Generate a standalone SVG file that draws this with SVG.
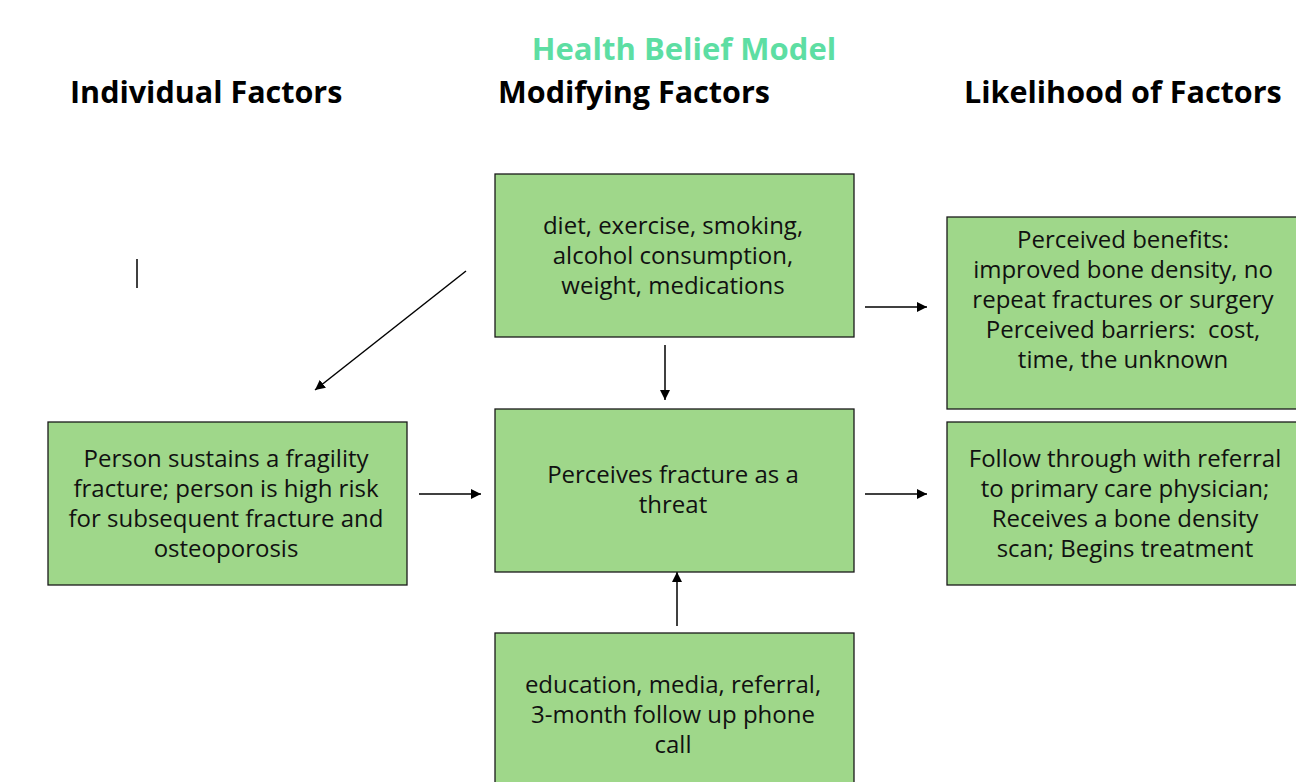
<svg xmlns="http://www.w3.org/2000/svg" width="1296" height="782" viewBox="0 0 1296 782">
<style>
.box{fill:#9fd78a;stroke:#1a1a1a;stroke-width:1.3}
.t{font-family:"Open Sans","Liberation Sans",sans-serif;font-size:24px;fill:#111;text-anchor:middle}
.h{font-family:"Open Sans","Liberation Sans",sans-serif;font-size:30.5px;font-weight:bold;fill:#000}
.c{stroke:#000;stroke-width:1.5;fill:none;marker-end:url(#ah)}
</style>
<defs>
<marker id="ah" viewBox="0 0 10 10" refX="10" refY="5" markerWidth="10" markerHeight="10" markerUnits="userSpaceOnUse" orient="auto">
<path d="M0,0 L10,5 L0,10 z" fill="#000"/>
</marker>
</defs>
<rect width="1296" height="782" fill="#fff"/>
<g id="titles">
<text x="684" y="60" class="h" style="fill:#5ddea3;text-anchor:middle;font-size:31px">Health Belief Model</text>
<text x="70" y="103" class="h">Individual Factors</text>
<text x="498" y="103" class="h">Modifying Factors</text>
<text x="964" y="103" class="h">Likelihood of Factors</text>
</g>
<g id="connectors">
<line class="c" x1="466" y1="271" x2="315" y2="390"/>
<line class="c" x1="665" y1="345" x2="665" y2="400"/>
<line class="c" x1="865" y1="307" x2="927" y2="307"/>
<line class="c" x1="419" y1="494" x2="481" y2="494"/>
<line class="c" x1="865" y1="494" x2="927" y2="494"/>
<line class="c" x1="677" y1="626" x2="677" y2="572"/>
<line x1="137" y1="259" x2="137" y2="288" stroke="#000" stroke-width="1.5"/>
</g>
<g id="n-risk-factors">
<rect class="box" x="495" y="174" width="359" height="163"/>
<text class="t" x="673" y="234">diet, exercise, smoking,</text>
<text class="t" x="673" y="264">alcohol consumption,</text>
<text class="t" x="673" y="294">weight, medications</text>
</g>
<g id="n-perceived">
<rect class="box" x="947" y="217" width="360" height="192"/>
<text class="t" x="1123" y="248">Perceived benefits:</text>
<text class="t" x="1123" y="278">improved bone density, no</text>
<text class="t" x="1123" y="308">repeat fractures or surgery</text>
<text class="t" x="1123" y="338" xml:space="preserve">Perceived barriers:  cost,</text>
<text class="t" x="1123" y="368">time, the unknown</text>
</g>
<g id="n-person">
<rect class="box" x="48" y="422" width="359" height="163"/>
<text class="t" x="226" y="467">Person sustains a fragility</text>
<text class="t" x="226" y="497">fracture; person is high risk</text>
<text class="t" x="226" y="527">for subsequent fracture and</text>
<text class="t" x="226" y="557">osteoporosis</text>
</g>
<g id="n-threat">
<rect class="box" x="495" y="409" width="359" height="163"/>
<text class="t" x="673" y="483">Perceives fracture as a</text>
<text class="t" x="673" y="513">threat</text>
</g>
<g id="n-follow">
<rect class="box" x="947" y="422" width="360" height="163"/>
<text class="t" x="1125" y="467">Follow through with referral</text>
<text class="t" x="1125" y="497">to primary care physician;</text>
<text class="t" x="1125" y="527">Receives a bone density</text>
<text class="t" x="1125" y="557">scan; Begins treatment</text>
</g>
<g id="n-cues">
<rect class="box" x="495" y="633" width="359" height="160"/>
<text class="t" x="673" y="693">education, media, referral,</text>
<text class="t" x="673" y="723">3-month follow up phone</text>
<text class="t" x="673" y="753">call</text>
</g>
</svg>
